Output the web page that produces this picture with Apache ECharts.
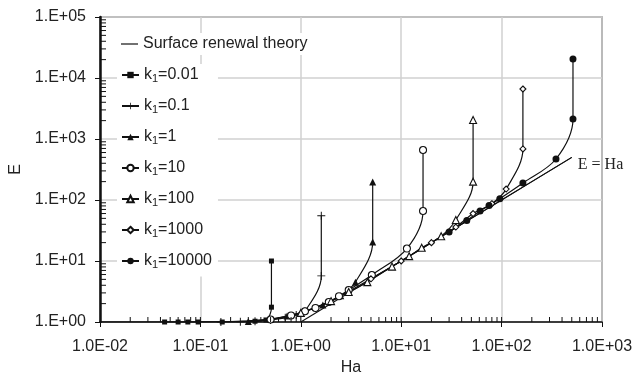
<!DOCTYPE html>
<html>
<head>
<meta charset="utf-8">
<script src="https://cdn.jsdelivr.net/npm/echarts@6/dist/echarts.min.js"></script>
<style>html,body{margin:0;padding:0;background:#fff}#c{width:634px;height:377px}</style>
</head>
<body>
<div id="c"></div>
<script>
// ---- tick labels ----
const xTickLabels = ['1.0E-02','1.0E-01','1.0E+00','1.0E+01','1.0E+02','1.0E+03'];
const yTickLabels = ['1.E+00','1.E+01','1.E+02','1.E+03','1.E+04','1.E+05'];
const minorMultipliers = [2,3,4,5,6,7,8,9];
const xDecades = [0.01,0.1,1,10,100];
const yDecades = [1,10,100,1000,10000];

// ---- series names ----
const theoryName = 'Surface renewal theory';
const kNames = ['k1=0.01','k1=0.1','k1=1','k1=10','k1=100','k1=1000','k1=10000'];

// ---- data ----
const haTheory = [0.01,0.05,0.1,0.2,0.3,0.5,0.7,1,1.5,2,3,5,7,10,20,50,100,200,500];
const eTheory  = [1.0,1.001,1.005,1.02,1.044,1.118,1.22,1.414,1.80,2.236,3.16,5.10,7.07,10.05,20.02,50.01,100,200,500];

const haLine = [1,500];
const eLine  = [1,500];

const haK001 = [0.044,0.06,0.075,0.095,0.165,0.35,0.45,0.51,0.51];
const eK001  = [1,1,1,1,1.0,1.03,1.08,1.75,10];

const haK01 = [0.16,0.25,0.35,0.5,0.7,0.9,1.1,1.6,1.6];
const eK01  = [1,1.01,1.03,1.08,1.17,1.3,1.5,5.7,55];

const haK1 = [0.3,0.5,0.73,1.0,1.66,2.5,3.5,5.2,5.2];
const eK1  = [1.02,1.1,1.25,1.42,1.9,2.7,4.5,20.5,197];

const haK10 = [0.5,0.8,1.1,1.4,1.9,2.4,3.0,5.1,11.4,16.5,16.5];
const eK10  = [1.1,1.28,1.5,1.7,2.13,2.65,3.35,5.9,16,66,660];

const haK100 = [1,2,3,4.6,8.1,12,16,25,35,52,52];
const eK100  = [1.41,2.2,3.1,4.5,8.1,12,16.5,25.5,47,200,2050];

const haK1000 = [5,10,20,35,52,80,111,163,163];
const eK1000  = [5.1,10,20,36,60,87,151,686,6600];

const haK10000 = [30,45,61,75,96,163,348,514,514];
const eK10000  = [30,46,66,81,105,190,470,2130,20500];

const kHa = [haK001,haK01,haK1,haK10,haK100,haK1000,haK10000];
const kE  = [eK001,eK01,eK1,eK10,eK100,eK1000,eK10000];

// ---- styles ----
const plusPath = 'path://M4.4,0H5.6V10H4.4ZM0,4.4H10V5.6H0Z';
const kStyles = [
  {symbol:'rect', size:5, fill:'#111'},
  {symbol:plusPath, size:8, fill:'#111'},
  {symbol:'triangle', size:7, fill:'#111'},
  {symbol:'circle', size:7, fill:'#fff'},
  {symbol:'triangle', size:7, fill:'#fff'},
  {symbol:'diamond', size:6, fill:'#fff'},
  {symbol:'circle', size:7, fill:'#111'}
];

const zip = (a,b) => a.map((v,i)=>[v,b[i]]);

const series = [];
series.push({
  name: theoryName, type:'line', data: zip(haTheory,eTheory), showSymbol:false, symbol:'none',
  smooth:false, lineStyle:{color:'#111', width:1.1}, itemStyle:{color:'#111'}, z:3
});
series.push({
  name: 'E = Ha', type:'line', symbol:'none', smooth:false,
  data: zip(haLine,eLine),
  endLabel:{show:true, formatter:'E = Ha', distance:6, offset:[0,7], fontFamily:'Liberation Serif, Times New Roman, serif', fontSize:16, color:'#222'},
  lineStyle:{color:'#111', width:1.1}, itemStyle:{color:'#111'}, z:3
});
kNames.forEach((n,i)=>{
  const s = kStyles[i];
  series.push({
    name:n, type:'line', data: zip(kHa[i],kE[i]), smooth:0.35,
    symbol:s.symbol, symbolSize:s.size, showSymbol:true,
    lineStyle:{color:'#111', width:1.2},
    itemStyle:{color:s.fill, borderColor:'#111', borderWidth: s.fill==='#fff'?1.1:0},
    z:4
  });
});

// tick marks drawn through the axes' scales
const tickData = [];
xDecades.forEach(d=>{ minorMultipliers.forEach(m=>tickData.push([m*d,1,0])); });
yDecades.forEach(d=>{ minorMultipliers.forEach(m=>tickData.push([0.01,m*d,1])); });
[0.1,1,10,100].forEach(d=>tickData.push([d,1,2]));
series.push({
  type:'custom', silent:true, z:6, clip:false, data: tickData,
  renderItem:(params, api)=>{
    const p = api.coord([api.value(0), api.value(1)]);
    const k = api.value(2);
    let shape;
    if (k===1) shape = {x1:p[0], y1:p[1], x2:p[0]+6, y2:p[1]};
    else shape = {x1:p[0], y1:p[1], x2:p[0], y2:p[1]-5};
    return {type:'line', shape, style:{stroke:'#111', lineWidth:1}};
  }
});

const fmtK = name => name.replace('k1', 'k{s|1}');
const legendText = {
  fontFamily:'Liberation Sans, Arial, sans-serif', fontSize:16, color:'#222',
  rich:{ s:{fontSize:11, fontFamily:'Liberation Sans, Arial, sans-serif', color:'#222', padding:[8,0,0,0]} }
};

const chart = echarts.init(document.getElementById('c'), null, {renderer:'canvas'});
chart.setOption({
  animation:false,
  backgroundColor:'#fff',
  textStyle:{fontFamily:'Liberation Sans, Arial, sans-serif'},
  grid:{left:100, right:32, top:17, bottom:55, show:true, borderColor:'#222', borderWidth:1.2, outerBoundsMode:'none', containLabel:false},
  legend:[
    {data:[{name:theoryName, icon:'path://M0,0H17V1.2H0Z'}], orient:'vertical', left:117, top:33, padding:[3,8,3,4], backgroundColor:'#fff',
     itemWidth:17, itemHeight:10, textStyle:legendText, selectedMode:false},
    {data:kNames, orient:'vertical', left:117, top:64, padding:[3,6,6,4], backgroundColor:'#fff',
     itemWidth:17, itemHeight:8, itemGap:13.5, textStyle:legendText, formatter:fmtK, selectedMode:false}
  ],
  xAxis:{
    type:'log', logBase:10, min:0.01, max:1000, interval:1,
    name:'Ha', nameLocation:'middle', nameGap:38,
    nameTextStyle:{fontSize:16, color:'#222', fontFamily:'Liberation Sans, Arial, sans-serif'},
    axisLine:{show:true, lineStyle:{color:'#111', width:1.5}},
    axisTick:{show:true, inside:false, length:5, lineStyle:{color:'#111', width:1}},
    axisLabel:{fontSize:16, color:'#222', margin:17,
      formatter:v=>xTickLabels[Math.round(Math.log10(v))+2]},
    splitLine:{show:true, lineStyle:{color:'#d0d0d0', width:1.5}},
    minorTick:{show:false}, minorSplitLine:{show:false}
  },
  yAxis:{
    type:'log', logBase:10, min:1, max:100000, interval:1,
    name:'E', nameLocation:'middle', nameGap:71,
    nameTextStyle:{fontSize:16, color:'#222', fontFamily:'Liberation Sans, Arial, sans-serif'},
    axisLine:{show:true, lineStyle:{color:'#111', width:2.5}},
    axisTick:{show:true, inside:false, length:5, lineStyle:{color:'#111', width:1}},
    axisLabel:{fontSize:16, color:'#222', margin:14,
      formatter:v=>yTickLabels[Math.round(Math.log10(v))]},
    splitLine:{show:true, lineStyle:{color:'#d0d0d0', width:1.5}},
    minorTick:{show:false}, minorSplitLine:{show:false}
  },
  series
});
</script>
</body>
</html>
